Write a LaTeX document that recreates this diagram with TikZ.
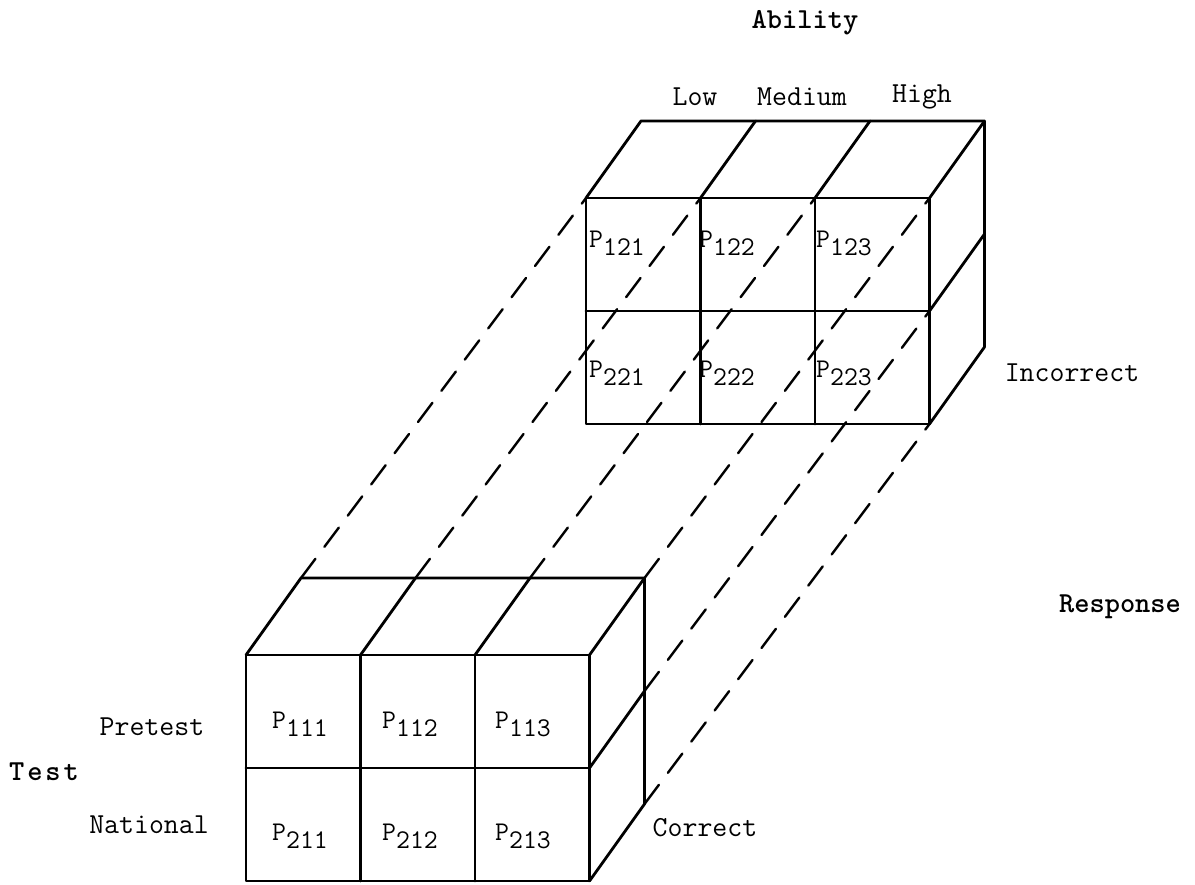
\documentclass[tikz,border=0pt]{standalone}
\usepackage{fontspec}
\newcommand\cellp[1]{P\raisebox{-8pt}{#1}}
% cuboid of 3 x 2 cells: name, front top-left corner (x,y)
\newcommand\cuboid[3]{%
  \foreach \i in {0,...,3}{%
    \foreach \j in {0,1,2}{%
      \coordinate (#1f\i\j) at (#2+\i*114.5, #3+\j*113);
      \coordinate (#1k\i\j) at (#2+\i*114.5+55, #3+\j*113-77);
    }}%
  % front face
  \draw[edge] (#1f00) rectangle (#1f32);
  \draw[edge] (#1f01) -- (#1f31);
  \draw[edge] (#1f10) -- (#1f12) (#1f20) -- (#1f22);
  % top and right faces
  \draw[edge] (#1f00) -- (#1k00) -- (#1k30) -- (#1k32) -- (#1f32);
  \draw[edge] (#1f10) -- (#1k10) (#1f20) -- (#1k20) (#1f30) -- (#1k30)
              (#1f31) -- (#1k31);
}
\begin{document}
\begin{tikzpicture}[x=1pt,y=-1pt,
  edge/.style={line width=2.8pt, line cap=round, line join=round},
  hidden/.style={line width=2.4pt, dash pattern=on 24pt off 15pt, line cap=round},
  axis/.style={font=\fontsize{29}{30}\selectfont\ttfamily, inner sep=0pt},
  head/.style={font=\fontsize{29}{30}\selectfont\ttfamily\bfseries, inner sep=0pt},
  cell/.style={font=\fontsize{27}{28}\selectfont\ttfamily, inner sep=0pt, anchor=base west},
]
\useasboundingbox (0,0) rectangle (1195,885);

% the two blocks of cells
\cuboid{b}{246}{655}
\cuboid{t}{586}{198}

% dashed lines joining the blocks
\foreach \i in {0,...,3}{
  \draw[hidden] (bk\i0) -- (tf\i0);
}
\draw[hidden] (bk31) -- (tf31);
\draw[hidden] (bk32) -- (tf32);

% cell probabilities
\node[cell] (p111) at (272,728) {\cellp{111}};
\node[cell] (p112) at (382,728) {\cellp{112}};
\node[cell] (p113) at (495,728) {\cellp{113}};
\node[cell] (p211) at (272,840) {\cellp{211}};
\node[cell] (p212) at (382,840) {\cellp{212}};
\node[cell] (p213) at (495,840) {\cellp{213}};
\node[cell] (p121) at (589,248) {\cellp{121}};
\node[cell] (p122) at (699,248) {\cellp{122}};
\node[cell] (p123) at (816,248) {\cellp{123}};
\node[cell] (p221) at (589,378) {\cellp{221}};
\node[cell] (p222) at (699,378) {\cellp{222}};
\node[cell] (p223) at (816,378) {\cellp{223}};

% factor labels
\node[head] (ability) at (805,23) {Ability};
\node[axis] (low) at (695,97) {Low};
\node[axis] (medium) at (802,97) {Medium};
\node[axis] (high) at (922,97) {High};
\node[axis] (incorrect) at (1072,373) {Incorrect};
\node[head] (response) at (1120,607) {Response};
\node[axis] (correct) at (705,828) {Correct};
\node[axis] (pretest) at (152,727) {Pretest};
\node[head] (test) at (44,772) {T\kern3pt e\kern3pt s\kern3pt t};
\node[axis] (national) at (149,825) {National};
\end{tikzpicture}
\end{document}
